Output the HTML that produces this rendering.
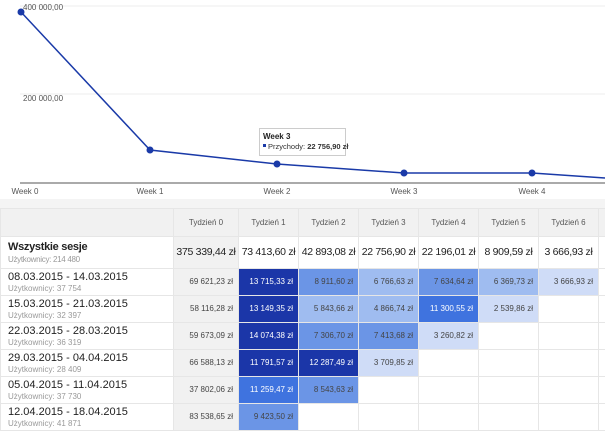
<!DOCTYPE html><html><head><meta charset="utf-8"><style>
body{margin:0;width:605px;height:426px;overflow:hidden;background:#fff;font-family:"Liberation Sans",Arial,sans-serif;position:relative}
.a{position:absolute}
table{position:absolute;left:0;top:208px;border-collapse:collapse;table-layout:fixed;width:608px}
td{border:1px solid #e6e6e6;padding:0 5px;text-align:right;font-size:8px;color:#444;white-space:nowrap;overflow:hidden;line-height:1.15}
td.l{text-align:left!important;padding-left:7px!important;font-size:11px;color:#222;background:#fff;letter-spacing:0}
td.l span{display:block;font-size:8px;color:#999;margin-top:1px}
td.g{background:#f1f1f1}
.h td{height:27px;background:#f1f1f1;text-align:center;font-size:8px;color:#555}
.s td{height:31px;font-size:10.5px;color:#222;text-align:center;padding:0;letter-spacing:-0.3px}
.r td{height:26px}
.d1{background:#1b36a8;color:#fff!important}
.d2{background:#3f73df;color:#fff!important}
.m{background:#6b95e6}
.l1{background:#9fbcf0}
.l2{background:#cfdcf7}
</style></head><body>
<svg class="a" style="left:0;top:0" width="605" height="205">
<line x1="20" y1="6" x2="605" y2="6" stroke="#eee"/>
<line x1="20" y1="94" x2="605" y2="94" stroke="#eee"/>
<line x1="20" y1="183" x2="605" y2="183" stroke="#555"/>
<polyline points="21,12 150,150 277,164 404,173 532,173 605,178" fill="none" stroke="#1a3aa8" stroke-width="1.5"/>
<g fill="#1a3aa8"><circle cx="21" cy="12" r="3.5"/><circle cx="150" cy="150" r="3.5"/><circle cx="277" cy="164" r="3.5"/><circle cx="404" cy="173" r="3.5"/><circle cx="532" cy="173" r="3.5"/></g>
<g font-size="8" fill="#555" font-family="Liberation Sans"><text x="23" y="10">400 000,00</text><text x="23" y="101">200 000,00</text>
<g text-anchor="middle"><text x="25" y="194">Week 0</text><text x="150" y="194">Week 1</text><text x="277" y="194">Week 2</text><text x="404" y="194">Week 3</text><text x="532" y="194">Week 4</text></g></g>
<rect x="259.5" y="128.5" width="86" height="27" fill="#fff" stroke="#ccc"/>
<text x="263" y="139" font-size="8" font-weight="bold" fill="#222" font-family="Liberation Sans">Week 3</text>
<rect x="263" y="144" width="3" height="3" fill="#1a3aa8"/>
<text x="268" y="149" font-size="7.5" fill="#333" font-family="Liberation Sans">Przychody: <tspan font-weight="bold">22 756,90 zł</tspan></text>
</svg>
<div class="a" style="left:0;top:199px;width:605px;height:9px;background:#f4f4f4"></div>
<table>
<colgroup><col style="width:173px"><col style="width:65px"><col style="width:60px"><col style="width:60px"><col style="width:60px"><col style="width:60px"><col style="width:60px"><col style="width:60px"><col style="width:10px"></colgroup>
<tr class="h"><td style="background:#f1f1f1"></td><td>Tydzień 0</td><td>Tydzień 1</td><td>Tydzień 2</td><td>Tydzień 3</td><td>Tydzień 4</td><td>Tydzień 5</td><td>Tydzień 6</td><td></td></tr>
<tr class="s"><td class="l" style="font-weight:bold;font-size:11px">Wszystkie sesje<span style="font-weight:normal">Użytkownicy: 214 480</span></td><td class="g">375 339,44 zł</td><td>73 413,60 zł</td><td>42 893,08 zł</td><td>22 756,90 zł</td><td>22 196,01 zł</td><td>8 909,59 zł</td><td>3 666,93 zł</td><td></td></tr>
<tr class="r"><td class="l">08.03.2015 - 14.03.2015<span>Użytkownicy: 37 754</span></td><td class="g">69 621,23 zł</td><td class="d1">13 715,33 zł</td><td class="m">8 911,60 zł</td><td class="l1">6 766,63 zł</td><td class="m">7 634,64 zł</td><td class="l1">6 369,73 zł</td><td class="l2">3 666,93 zł</td><td></td></tr>
<tr class="r"><td class="l">15.03.2015 - 21.03.2015<span>Użytkownicy: 32 397</span></td><td class="g">58 116,28 zł</td><td class="d1">13 149,35 zł</td><td class="l1">5 843,66 zł</td><td class="l1">4 866,74 zł</td><td class="d2">11 300,55 zł</td><td class="l2">2 539,86 zł</td><td></td><td></td></tr>
<tr class="r"><td class="l">22.03.2015 - 28.03.2015<span>Użytkownicy: 36 319</span></td><td class="g">59 673,09 zł</td><td class="d1">14 074,38 zł</td><td class="m">7 306,70 zł</td><td class="m">7 413,68 zł</td><td class="l2">3 260,82 zł</td><td></td><td></td><td></td></tr>
<tr class="r"><td class="l">29.03.2015 - 04.04.2015<span>Użytkownicy: 28 409</span></td><td class="g">66 588,13 zł</td><td class="d1">11 791,57 zł</td><td class="d1">12 287,49 zł</td><td class="l2">3 709,85 zł</td><td></td><td></td><td></td><td></td></tr>
<tr class="r"><td class="l">05.04.2015 - 11.04.2015<span>Użytkownicy: 37 730</span></td><td class="g">37 802,06 zł</td><td class="d2">11 259,47 zł</td><td class="m">8 543,63 zł</td><td></td><td></td><td></td><td></td><td></td></tr>
<tr class="r"><td class="l">12.04.2015 - 18.04.2015<span>Użytkownicy: 41 871</span></td><td class="g">83 538,65 zł</td><td class="m">9 423,50 zł</td><td></td><td></td><td></td><td></td><td></td><td></td></tr>
</table>
</body></html>
